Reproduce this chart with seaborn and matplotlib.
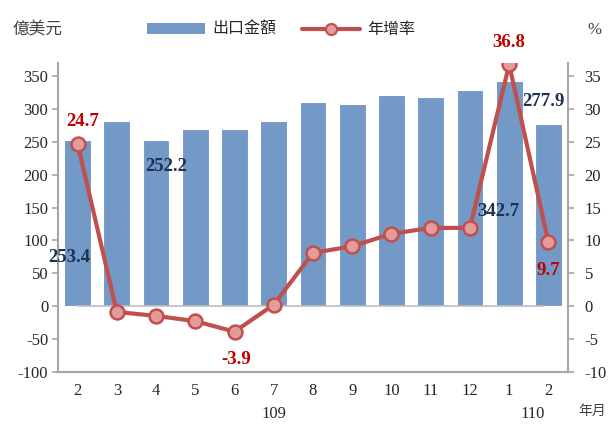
import numpy as np
import pandas as pd
import matplotlib
matplotlib.use('Agg')
import matplotlib.pyplot as plt
from matplotlib.lines import Line2D
from matplotlib.patches import Patch
import seaborn as sns

# data (109/02 - 110/02)
periods = ['109-02', '109-03', '109-04', '109-05', '109-06', '109-07', '109-08',
           '109-09', '109-10', '109-11', '109-12', '110-01', '110-02']
months = ['2', '3', '4', '5', '6', '7', '8', '9', '10', '11', '12', '1', '2']
exports = [253.4, 282.0, 252.2, 270.0, 270.0, 282.0, 311.0, 307.0, 321.0, 318.7, 328.7, 342.7, 277.9]
growth = [24.7, -0.9, -1.5, -2.3, -3.9, 0.2, 8.1, 9.1, 11.0, 11.9, 11.9, 36.8, 9.7]

# which values get a label, and label offsets (points)
bar_labels = {0: (-6, -85), 2: (7, -19), 11: (-8, -94), 12: (-3.5, 16)}
line_labels = {0: (4, 16), 4: (1.5, -20), 11: (0, 16), 12: (0, -20)}

df = pd.DataFrame({'period': periods, 'exports': exports, 'growth': growth,
                   'pos': np.arange(len(periods))})

sns.set_style('white')
plt.rcParams['font.family'] = ['Liberation Serif', 'Noto Sans CJK TC']
plt.rcParams['axes.unicode_minus'] = False
cjk = 'Noto Sans CJK TC'

bar_color = '#7399C6'
line_color = '#C0504D'
face_color = '#E39C9B'
grey = '#A6A6A6'
tick_color = '#262626'

fig = plt.figure(figsize=(6.09, 4.24), dpi=100)
ax = fig.add_axes([0.0952, 0.1233, 0.8375, 0.728])

sns.barplot(data=df, x='period', y='exports', color=bar_color, saturation=1,
            width=0.68, edgecolor='white', linewidth=0.8, ax=ax)
ax.set_ylim(-100, 370)
ax.set_yticks(range(-100, 351, 50))
ax.set_xlim(-0.5, 12.5)
ax.set_xticks(range(len(months)))
ax.set_xticklabels(months)
ax.set_xlabel('')
ax.set_ylabel('')
ax.axhline(0, xmin=0.5 / 13, xmax=12.5 / 13 - 0.01, color='#BFBFBF', lw=1.2, zorder=1)

ax2 = ax.twinx()
sns.lineplot(data=df, x='pos', y='growth', color=line_color, lw=3, marker='o',
             markersize=10, markerfacecolor=face_color, markeredgecolor=line_color,
             markeredgewidth=1.8, ax=ax2)
ax2.set_ylim(-10, 37)
ax2.set_yticks(range(-10, 36, 5))
ax2.set_xlim(-0.5, 12.5)
ax2.set_ylabel('')
ax2.set_xlabel('')

for a in (ax, ax2):
    a.spines['top'].set_visible(False)
    for s in ['left', 'right', 'bottom']:
        a.spines[s].set_color(grey)
        a.spines[s].set_linewidth(1.5)
    a.tick_params(axis='y', length=4, width=1.2, color=grey, labelsize=12,
                  labelcolor=tick_color)
ax.tick_params(axis='y', pad=3)
ax2.tick_params(axis='y', pad=8)
ax.tick_params(axis='x', length=0, pad=8, labelsize=12, labelcolor=tick_color)
ax2.spines['left'].set_visible(False)
ax.spines['right'].set_visible(False)

for i, (dx, dy) in bar_labels.items():
    ax.annotate(f'{exports[i]:.1f}', (i, exports[i]), xytext=(dx, dy),
                textcoords='offset points', ha='center', va='center',
                fontsize=13.5, fontweight='bold', color='#1F3050')
for i, (dx, dy) in line_labels.items():
    ax2.annotate(f'{growth[i]:.1f}', (i, growth[i]), xytext=(dx, dy),
                 textcoords='offset points', ha='center', va='center',
                 fontsize=13.5, fontweight='bold', color='#C00000', zorder=5)

# year labels under the months
ax.text(5, -0.137, '109', transform=ax.get_xaxis_transform(), ha='center',
        va='center', fontsize=12, color=tick_color)
ax.text(11.6, -0.137, '110', transform=ax.get_xaxis_transform(), ha='center',
        va='center', fontsize=12, color=tick_color)

fig.text(0.995, 0.03, '年月', ha='right', va='center', fontsize=10, family=cjk, color='#404040')
fig.text(0.02, 0.93, '億美元', ha='left', va='center', fontsize=12, family=cjk, color='#404040')
fig.text(0.965, 0.93, '%', ha='left', va='center', fontsize=12, color='#404040')

handles = [Patch(facecolor=bar_color, edgecolor='none', label='出口金額'),
           Line2D([0], [0], color=line_color, lw=3, marker='o', markersize=8,
                  markerfacecolor=face_color, markeredgecolor=line_color,
                  markeredgewidth=1.5, label='年增率')]
fig.legend(handles=handles, loc='center', bbox_to_anchor=(0.462, 0.93), ncol=2,
           frameon=False, prop={'family': cjk, 'size': 11.5}, handlelength=3.6,
           handleheight=0.6, columnspacing=1.6, handletextpad=0.5)

fig.savefig('out.png', dpi=100)
